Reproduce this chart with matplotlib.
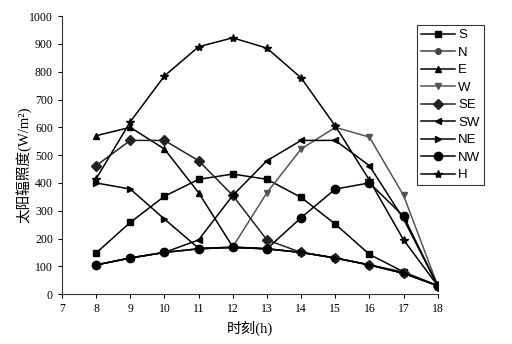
'''
Solar irradiance on differently oriented surfaces over the day
'''
import matplotlib
matplotlib.use('Agg')
from matplotlib import pyplot as plt

hours = [8, 9, 10, 11, 12, 13, 14, 15, 16, 17, 18]

S = [148, 258, 352, 413, 432, 413, 348, 252, 143, 80, 30]
N = [105, 130, 150, 163, 168, 163, 150, 130, 105, 80, 30]
E = [570, 600, 522, 365, 170, 163, 150, 130, 105, 75, 30]
W = [105, 130, 150, 163, 170, 365, 522, 600, 565, 355, 30]
SE = [462, 553, 553, 480, 355, 195, 150, 130, 105, 75, 30]
SW = [105, 130, 150, 195, 355, 480, 553, 553, 462, 270, 30]
NE = [400, 378, 270, 165, 168, 163, 150, 130, 105, 75, 30]
NW = [105, 130, 150, 163, 168, 163, 275, 378, 400, 280, 30]
H = [415, 620, 785, 890, 922, 885, 778, 605, 410, 195, 30]

labels = ['S', 'N', 'E', 'W', 'SE', 'SW', 'NE', 'NW', 'H']
series = [S, N, E, W, SE, SW, NE, NW, H]
markers = ['s', 'o', '^', 'v', 'D', '<', '>', 'o', '*']
sizes = [5, 4, 5, 5, 5, 5, 5, 6, 6]
colors = ['black', '#444444', 'black', '#555555', '#222222', 'black', 'black', 'black', 'black']

serif = ['Liberation Serif', 'DejaVu Serif']
mixed = ['Liberation Serif', 'Noto Sans CJK SC', 'DejaVu Sans']

fig = plt.figure(figsize=(5.12, 3.44), dpi=100)
ax = fig.add_axes([0.121, 0.145, 0.734, 0.808])

for vals, lab, mk, ms, col in zip(series, labels, markers, sizes, colors):
    ax.plot(hours, vals, marker=mk, markersize=ms, color=col, lw=1.1, label=lab)

ax.set_xlim(7, 18)
ax.set_ylim(0, 1000)
ax.set_xticks(range(7, 19))
ax.set_yticks(range(0, 1001, 100))
for s in ['top', 'right']:
    ax.spines[s].set_visible(False)
for s in ['left', 'bottom']:
    ax.spines[s].set_color('#333333')
ax.tick_params(direction='out', length=3, labelsize=8.5)
for t in ax.get_xticklabels() + ax.get_yticklabels():
    t.set_family(serif)

# axis titles placed in figure coords
fig.text(250/512, 1 - 328/344, '时刻(h)', family=mixed, fontsize=10.5,
         ha='center', va='center')
fig.text(23/512, 1 - 165/344, '太阳辐照度(W/m²)', family=mixed, fontsize=10.5,
         ha='center', va='center', rotation=90)

leg = ax.legend(loc='upper left', bbox_to_anchor=(0.945, 0.968), frameon=True,
                fancybox=False, edgecolor='black',
                prop={'family': ['Liberation Sans', 'DejaVu Sans'], 'size': 9.5},
                handlelength=2.6, handletextpad=0.2, labelspacing=0.4,
                borderpad=0.3, borderaxespad=0)
leg.get_frame().set_linewidth(0.8)

plt.savefig('out.png', dpi=100)
plt.close(fig)
